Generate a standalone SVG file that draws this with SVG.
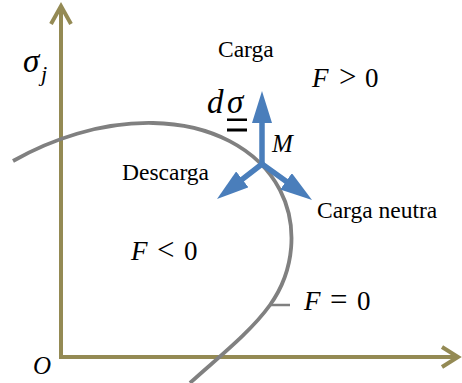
<svg xmlns="http://www.w3.org/2000/svg" width="462" height="383" viewBox="0 0 462 383">
<defs>
<style>
.axis{fill:none;stroke:#948A54;stroke-width:4;stroke-linecap:butt;stroke-linejoin:miter}
.curve{fill:none;stroke:#808080;stroke-width:3.8}
.vec{stroke:#4A7EBB;stroke-width:5.5;stroke-linecap:round;fill:none}
.lbl{font-family:"Liberation Serif","Times New Roman",serif;font-size:23.5px;fill:#000}
.math{font-family:"Liberation Serif","Times New Roman",serif;font-size:27px;fill:#000}
.it{font-style:italic}
.rel{font-size:31px}
</style>
<marker id="head" markerUnits="userSpaceOnUse" markerWidth="32" markerHeight="20" refX="12" refY="10" orient="auto">
<path d="M0,0 L32,10 L0,20 Z" fill="#4A7EBB"/>
</marker>
</defs>
<g id="axes">
<path class="axis" d="M61,357 V6 M51,24 L61,6 L71,24"/>
<path class="axis" d="M59,357 H458 M442,347 L458,357 L442,367"/>
</g>
<g id="connectors">
<path class="curve" d="M13,161 C50,140 100,122 153,123 C210,124 258,148 280,190 C298,225 295,270 270,305 C250,333 215,360 190,383"/>
<line x1="270" y1="305" x2="290" y2="305" stroke="#808080" stroke-width="2.5"/>
<line class="vec" x1="262" y1="164" x2="262" y2="111" marker-end="url(#head)"/>
<line class="vec" x1="262" y1="164" x2="232.8" y2="186.7" marker-end="url(#head)"/>
<line class="vec" x1="262" y1="164" x2="295.8" y2="188.3" marker-end="url(#head)"/>
</g>
<g id="labels">
<text class="math it" x="23" y="72" style="font-size:33px">σ</text>
<text class="math it" x="41" y="81" style="font-size:22px">j</text>
<text class="lbl" x="218" y="57">Carga</text>
<text class="math" y="87"><tspan class="it" x="312">F</tspan><tspan class="rel" x="339">&gt;</tspan><tspan x="365">0</tspan></text>
<text class="math it" y="113" style="font-size:33px"><tspan x="207">d</tspan><tspan x="227">σ</tspan></text>
<rect x="227" y="118.5" width="20" height="2.5" fill="#000"/>
<rect x="227" y="128.5" width="20" height="3" fill="#000"/>
<text class="math it" x="272" y="152" style="font-size:25px">M</text>
<text class="lbl" x="122" y="180">Descarga</text>
<text class="lbl" x="317" y="218">Carga neutra</text>
<text class="math" y="260"><tspan class="it" x="131">F</tspan><tspan class="rel" x="157">&lt;</tspan><tspan x="184">0</tspan></text>
<text class="math" y="310"><tspan class="it" x="304">F</tspan><tspan class="rel" x="330">=</tspan><tspan x="357">0</tspan></text>
<text class="math it" x="33" y="374" style="font-size:25px">O</text>
</g>
</svg>
